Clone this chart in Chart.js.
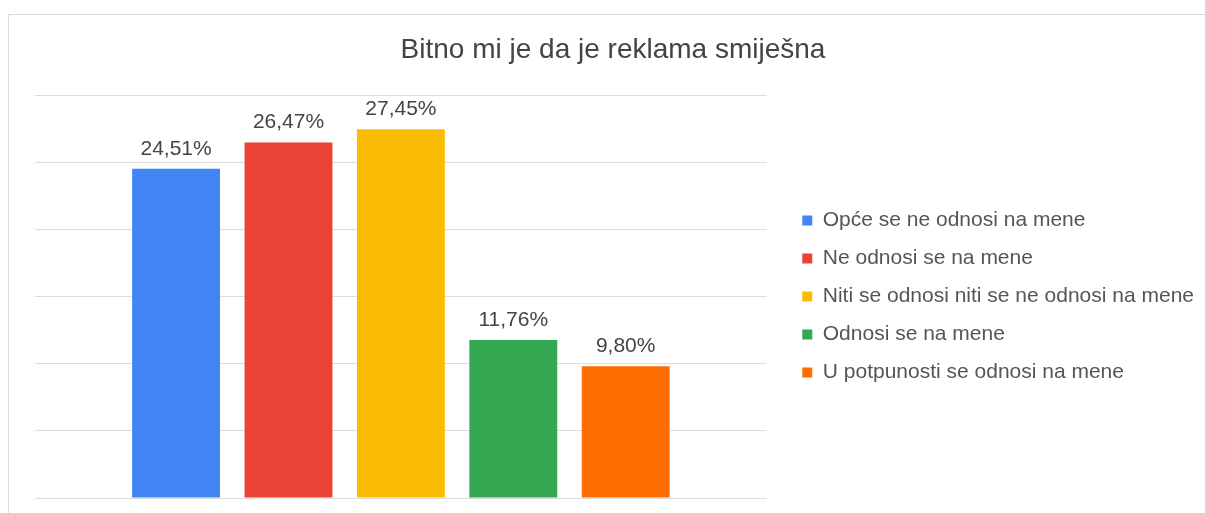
<!DOCTYPE html>
<html>
<head>
<meta charset="utf-8">
<script src="https://cdn.jsdelivr.net/npm/chart.js@4"></script>
<style>
    html, body { margin: 0; padding: 0; background: #fff; overflow: hidden; width: 1205px; height: 513px; }
    .frame {
        position: absolute; left: 8px; top: 14px; width: 1260px; height: 560px;
        border-top: 1px solid #dadada; border-left: 1px solid #dadada;
    }
    .chart-box { position: absolute; left: 8px; top: 14px; width: 1210px; height: 499px; }
</style>
</head>
<body>
<div class="frame"></div>
<div class="chart-box"><canvas id="humorChart"></canvas></div>
<script>
const chartTitle = 'Bitno mi je da je reklama smiješna';
const categories = [''];
const seriesNames = [
    'Opće se ne odnosi na mene',
    'Ne odnosi se na mene',
    'Niti se odnosi niti se ne odnosi na mene',
    'Odnosi se na mene',
    'U potpunosti se odnosi na mene'
];
const seriesValues = [24.51, 26.47, 27.45, 11.76, 9.80];
const seriesColors = ['#4285F4', '#EA4335', '#FBBC04', '#34A853', '#FF6D01'];
const yTicks = [0, 5, 10, 15, 20, 25, 30];

const FONT = "'Liberation Sans', Arial, sans-serif";

// value labels above bars, e.g. 24,51%
const barLabels = {
    id: 'barLabels',
    afterDatasetsDraw(chart) {
        const ctx = chart.ctx;
        ctx.save();
        ctx.font = '21px ' + FONT;
        ctx.fillStyle = '#444';
        ctx.textAlign = 'center';
        ctx.textBaseline = 'alphabetic';
        chart.data.datasets.forEach((ds, i) => {
            const meta = chart.getDatasetMeta(i);
            meta.data.forEach((bar, j) => {
                const txt = ds.data[j].toFixed(2).replace('.', ',') + '%';
                ctx.fillText(txt, bar.x, bar.y - 14);
            });
        });
        ctx.restore();
    }
};

new Chart(document.getElementById('humorChart'), {
    type: 'bar',
    data: {
        labels: categories,
        datasets: seriesNames.map((name, i) => ({
            label: name,
            data: [seriesValues[i]],
            backgroundColor: seriesColors[i],
            borderWidth: 0,
            categoryPercentage: 0.768,
            barPercentage: 0.782
        }))
    },
    options: {
        responsive: true,
        maintainAspectRatio: false,
        animation: false,
        layout: { padding: { left: 14, right: 14, top: 0, bottom: 15 } },
        plugins: {
            title: {
                display: true,
                text: chartTitle,
                color: '#444',
                font: { family: FONT, size: 28, weight: 'normal' },
                padding: { top: 19.5, bottom: 27.9 }
            },
            legend: {
                position: 'right',
                align: 'center',
                fullSize: false,
                maxWidth: 460,
                labels: {
                    boxWidth: 10,
                    boxHeight: 10,
                    padding: 17,
                    color: '#555',
                    font: { family: FONT, size: 21 }
                }
            },
            tooltip: { enabled: false }
        },
        scales: {
            x: {
                ticks: { display: false },
                grid: { display: false, drawTicks: false },
                border: { display: false }
            },
            y: {
                min: 0,
                max: 30,
                afterBuildTicks: (scale) => { scale.ticks = yTicks.map(v => ({ value: v })); },
                afterFit: (scale) => { scale.width = 13; },
                ticks: { display: false },
                grid: { color: '#dcdcdc', lineWidth: 1, drawTicks: false },
                border: { display: false }
            },
            gap: {
                position: 'right',
                display: true,
                ticks: { display: false },
                grid: { display: false, drawTicks: false },
                border: { display: false },
                afterFit: (scale) => { scale.width = 18.5; }
            }
        }
    },
    plugins: [barLabels]
});
</script>
</body>
</html>
